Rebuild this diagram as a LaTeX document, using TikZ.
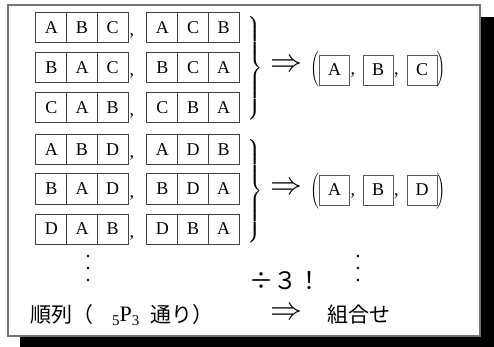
\RequirePackage{fix-cm}
\documentclass[tikz,border=0pt]{standalone}
\usepackage{exscale}
\usepackage{fontspec}
\setmainfont{Liberation Serif}
\newfontfamily\jp{Noto Sans CJK JP}
\begin{document}
\begin{tikzpicture}[x=1pt,y=-1pt,
  cell/.style={draw=black!75,line width=1pt,minimum width=30.7pt,minimum height=30pt,inner sep=0pt,font=\fontsize{18}{18}\selectfont},
  rbox/.style={draw=black!65,line width=0.8pt,minimum width=30pt,minimum height=30pt,inner sep=0pt,font=\fontsize{18}{18}\selectfont},
  comma/.style={anchor=base west,inner sep=0pt,font=\fontsize{18}{18}\selectfont},
  bigarrow/.style={inner sep=0pt,font=\fontsize{32}{32}\selectfont},
  jtext/.style={inner sep=0pt,font=\jp\fontsize{21}{21}\selectfont},
  bracenode/.style={inner sep=0pt,font=\fontsize{16}{16}\selectfont},
  dotmark/.style={circle,fill=black,inner sep=0pt,minimum size=2.6pt}]
\useasboundingbox (0,0) rectangle (494,347);
% shadow and frame
\fill[black] (20,17) rectangle (494,347);
\draw[draw=black!55,line width=1.6pt,fill=white] (8,5) rectangle (480,336);

% group 1 permutations
\foreach \row/\y/\a/\b/\c/\d/\e/\f in {1/28/A/B/C/A/C/B, 2/68/B/A/C/B/C/A, 3/108/C/A/B/C/B/A}{
  \node[cell] (p\row a) at (51.3,\y) {\a};
  \node[cell] (p\row b) at (82,\y) {\b};
  \node[cell] (p\row c) at (112.7,\y) {\c};
  \node[comma] (pc\row) at (129.5,\y+8) {,};
  \node[cell] (p\row d) at (162.3,\y) {\d};
  \node[cell] (p\row e) at (193,\y) {\e};
  \node[cell] (p\row f) at (223.7,\y) {\f};
}
% group 2 permutations
\foreach \row/\y/\a/\b/\c/\d/\e/\f in {1/150/A/B/D/A/D/B, 2/189/B/A/D/B/D/A, 3/229/D/A/B/D/B/A}{
  \node[cell] (q\row a) at (51.3,\y) {\a};
  \node[cell] (q\row b) at (82,\y) {\b};
  \node[cell] (q\row c) at (112.7,\y) {\c};
  \node[comma] (qc\row) at (129.5,\y+8) {,};
  \node[cell] (q\row d) at (162.3,\y) {\d};
  \node[cell] (q\row e) at (193,\y) {\e};
  \node[cell] (q\row f) at (223.7,\y) {\f};
}

% braces
\node[bracenode] (br1) at (255,68) {$\left.\rule[-47.5pt]{0pt}{95pt}\right\}$};
\node[bracenode] (br2) at (255,191) {$\left.\rule[-46.5pt]{0pt}{93pt}\right\}$};

% arrows
\node[bigarrow] (ar1) at (286,66) {$\Rightarrow$};
\node[bigarrow] (ar2) at (286,189) {$\Rightarrow$};

% results group 1
\node[inner sep=0pt] (lp1) at (315,70) {$\left(\rule[-17pt]{0pt}{35pt}\right.$};
\node[rbox] (r1a) at (334.5,70) {A};
\node[comma] (rc1a) at (350.5,75) {,};
\node[rbox] (r1b) at (378,70) {B};
\node[comma] (rc1b) at (394,75) {,};
\node[rbox] (r1c) at (422,70) {C};
\node[inner sep=0pt] (rp1) at (440.5,70) {$\left.\rule[-17pt]{0pt}{35pt}\right)$};

% results group 2
\node[inner sep=0pt] (lp2) at (315,192) {$\left(\rule[-17pt]{0pt}{35pt}\right.$};
\node[rbox] (r2a) at (334.5,190) {A};
\node[comma] (rc2a) at (350.5,195) {,};
\node[rbox] (r2b) at (378,190) {B};
\node[comma] (rc2b) at (394,195) {,};
\node[rbox] (r2c) at (422,190) {D};
\node[inner sep=0pt] (rp2) at (440.5,192) {$\left.\rule[-17pt]{0pt}{35pt}\right)$};

% vertical dots
\node[dotmark] (d1a) at (88,256) {};
\node[dotmark] (d1b) at (88,268) {};
\node[dotmark] (d1c) at (88,280) {};
\node[dotmark] (d2a) at (358,256) {};
\node[dotmark] (d2b) at (358,268) {};
\node[dotmark] (d2c) at (358,280) {};

% bottom labels
\node[jtext,font=\jp\fontsize{24}{24}\selectfont] (div) at (285,281) {÷３！};
\node[jtext,anchor=west] (perm1) at (30,315) {順列（};
\node[inner sep=0pt,anchor=west,font=\fontsize{22}{22}\selectfont] (perm2) at (112,316) {{\fontsize{15}{15}\selectfont\raisebox{-4pt}{5}}P{\fontsize{15}{15}\selectfont\raisebox{-4pt}{3}}};
\node[jtext,anchor=west] (perm3) at (150,315) {通り）};
\node[bigarrow] (ar3) at (286,314) {$\Rightarrow$};
\node[jtext,anchor=west] (comb) at (327,315) {組合せ};
\end{tikzpicture}
\end{document}
